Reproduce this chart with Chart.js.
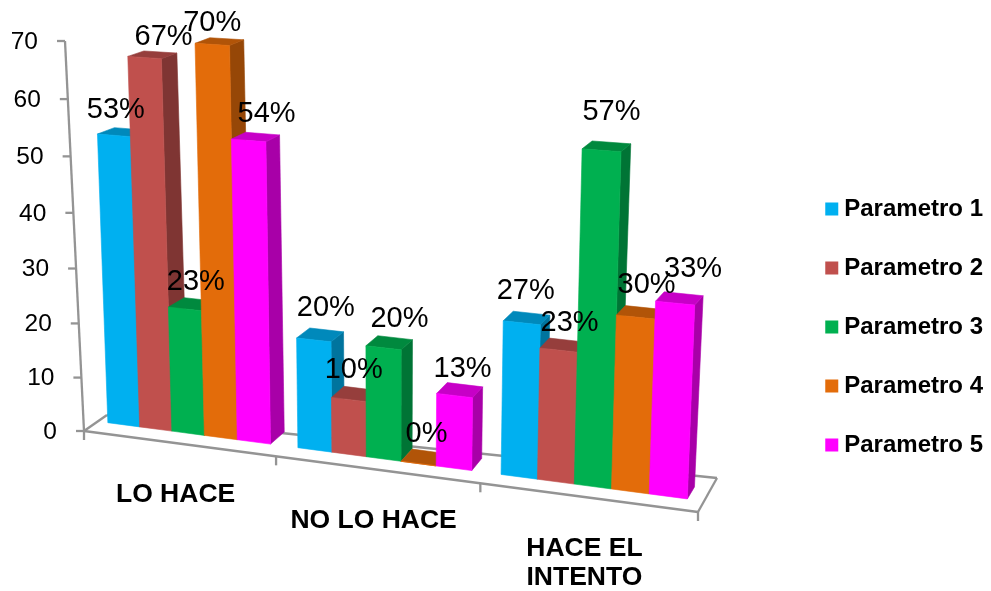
<!DOCTYPE html>
<html>
<head>
<meta charset="utf-8">
<style>
  html, body { margin: 0; padding: 0; background: #fff; }
  canvas { display: block; }
</style>
</head>
<body>
<canvas id="chart" width="991" height="591"></canvas>
<script src="https://cdn.jsdelivr.net/npm/chart.js@4"></script>
<script>
const categories = [['LO HACE'], ['NO LO HACE'], ['HACE EL', 'INTENTO']];
const seriesNames = ['Parametro 1', 'Parametro 2', 'Parametro 3', 'Parametro 4', 'Parametro 5'];
const parametro1 = [53, 20, 27];
const parametro2 = [67, 10, 23];
const parametro3 = [23, 20, 57];
const parametro4 = [70, 0, 30];
const parametro5 = [54, 13, 33];
const seriesColors = ['#00B0F0', '#C0504D', '#00B050', '#E36C0A', '#FF00FF'];
const yTicks = [0, 10, 20, 30, 40, 50, 60, 70];
const axisMax = 70;

// label offset from the bar top, per series per category
const labelNudgeX = [[2, 12, 4], [19, 5, 11], [11, 16, 10], [0, 8, 11], [18, 8, 18]];
const labelNudgeY = [[-25, -32, -32], [-21, -30, -27], [-27, -29, -38], [-21, -30, -32], [-26, -27, -34]];

// square -> quad perspective map
function quadMap(p00, p10, p11, p01) {
  const dx1 = p10[0] - p11[0], dx2 = p01[0] - p11[0], sx = p00[0] - p10[0] + p11[0] - p01[0];
  const dy1 = p10[1] - p11[1], dy2 = p01[1] - p11[1], sy = p00[1] - p10[1] + p11[1] - p01[1];
  const den = dx1 * dy2 - dx2 * dy1;
  const g = (sx * dy2 - dx2 * sy) / den;
  const h = (dx1 * sy - sx * dy1) / den;
  const a = p10[0] - p00[0] + g * p10[0], b = p01[0] - p00[0] + h * p01[0];
  const d = p10[1] - p00[1] + g * p10[1], e = p01[1] - p00[1] + h * p01[1];
  return (u, v) => {
    const w = g * u + h * v + 1;
    return [(a * u + b * v + p00[0]) / w, (d * u + e * v + p00[1]) / w];
  };
}

const frontPlane = quadMap([95, 421], [703, 501], [720, 77], [80.5, 36]);
const backPlane = quadMap([113, 409], [710, 489], [730, 69], [97.5, 31]);
const wallPlane = quadMap([84, 431], [698, 512], [711, 86], [65, 41]);
const floorBack = [[717, 478], [107, 415]];

function shade(hex, k) {
  const n = parseInt(hex.slice(1), 16);
  return 'rgb(' + [n >> 16, (n >> 8) & 255, n & 255].map(c => Math.round(c * k)).join(',') + ')';
}

function poly(ctx, pts, color) {
  ctx.beginPath();
  pts.forEach((p, i) => i ? ctx.lineTo(p[0], p[1]) : ctx.moveTo(p[0], p[1]));
  ctx.closePath();
  ctx.fillStyle = color;
  ctx.strokeStyle = color;
  ctx.lineWidth = 0.6;
  ctx.fill();
  ctx.stroke();
}

function line(ctx, a, b) {
  ctx.beginPath();
  ctx.moveTo(a[0], a[1]);
  ctx.lineTo(b[0], b[1]);
  ctx.stroke();
}

const perspectiveBars = {
  id: 'perspectiveBars',
  beforeDatasetsDraw(chart) {
    const ctx = chart.ctx, area = chart.chartArea;
    const toU = x => (x - area.left) / area.width;
    const toV = y => (area.bottom - y) / area.height;

    // floor and axis
    ctx.save();
    ctx.strokeStyle = '#949494';
    ctx.lineWidth = 2.3;
    const fl = wallPlane(0, 0), fr = wallPlane(1, 0);
    line(ctx, fl, fr);
    line(ctx, fr, floorBack[0]);
    line(ctx, floorBack[0], floorBack[1]);
    line(ctx, floorBack[1], fl);
    line(ctx, fl, wallPlane(0, 1));
    categories.concat([null]).forEach((c, i) => {
      const p = wallPlane(i / categories.length, 0);
      line(ctx, p, [p[0], p[1] + 9]);
    });
    ctx.font = '24.5px "Liberation Sans", Arial, sans-serif';
    ctx.fillStyle = '#000';
    ctx.textAlign = 'right';
    ctx.textBaseline = 'middle';
    yTicks.forEach(t => {
      const p = wallPlane(0, t / axisMax);
      line(ctx, p, [p[0] - 8, p[1]]);
      ctx.fillText(String(t), p[0] - 27, p[1] + 1);
    });
    ctx.restore();

    // bars, left to right so the neighbour covers the side face
    const bars = [];
    chart.data.datasets.forEach((ds, d) => {
      chart.getDatasetMeta(d).data.forEach((el, i) => bars.push({ el, d, i }));
    });
    bars.sort((a, b) => a.el.x - b.el.x);
    bars.forEach(({ el, d }) => {
      const u0 = toU(el.x - el.width / 2), u1 = toU(el.x + el.width / 2), v = toV(el.y);
      const color = seriesColors[d];
      poly(ctx, [frontPlane(u1, 0), backPlane(u1, 0), backPlane(u1, v), frontPlane(u1, v)], shade(color, 0.66));
      poly(ctx, [frontPlane(u0, v), frontPlane(u1, v), backPlane(u1, v), backPlane(u0, v)], shade(color, 0.78));
      poly(ctx, [frontPlane(u0, 0), frontPlane(u1, 0), frontPlane(u1, v), frontPlane(u0, v)], color);
    });
    return false;
  },
  afterDraw(chart) {
    const ctx = chart.ctx, area = chart.chartArea;
    const toU = x => (x - area.left) / area.width;
    const toV = y => (area.bottom - y) / area.height;
    ctx.save();
    ctx.fillStyle = '#000';
    ctx.textAlign = 'center';
    ctx.textBaseline = 'middle';

    // value labels
    ctx.font = '29px "Liberation Sans", Arial, sans-serif';
    chart.data.datasets.forEach((ds, d) => {
      chart.getDatasetMeta(d).data.forEach((el, i) => {
        const p = frontPlane(toU(el.x), toV(el.y));
        ctx.fillText(ds.data[i] + '%', p[0] + labelNudgeX[d][i], p[1] + labelNudgeY[d][i]);
      });
    });

    // category labels hang under the slanted floor
    ctx.font = 'bold 26.5px "Liberation Sans", Arial, sans-serif';
    const xScale = chart.scales.x;
    categories.forEach((lines, i) => {
      const p = wallPlane(toU(xScale.getPixelForTick(i)), 0);
      lines.forEach((txt, k) => ctx.fillText(txt, p[0] - 3, p[1] + 51 + k * 29));
    });
    ctx.restore();
  }
};

new Chart(document.getElementById('chart'), {
  type: 'bar',
  data: {
    labels: categories,
    datasets: seriesNames.map((name, i) => ({
      label: name,
      data: [parametro1, parametro2, parametro3, parametro4, parametro5][i],
      backgroundColor: seriesColors[i],
      borderWidth: 0,
      categoryPercentage: 0.86,
      barPercentage: 1
    }))
  },
  options: {
    responsive: false,
    animation: false,
    devicePixelRatio: 1,
    layout: { padding: { top: 63, right: -2 } },
    scales: {
      x: { display: false },
      y: { display: false, min: 0, max: axisMax }
    },
    plugins: {
      tooltip: { enabled: false },
      title: { display: false },
      legend: {
        position: 'right',
        labels: {
          usePointStyle: true,
          pointStyle: 'rect',
          boxWidth: 1,
          boxHeight: 13,
          padding: 35,
          color: '#000',
          font: { family: '"Liberation Sans", Arial, sans-serif', size: 24, weight: 'bold' }
        }
      }
    }
  },
  plugins: [perspectiveBars]
});
</script>
</body>
</html>
